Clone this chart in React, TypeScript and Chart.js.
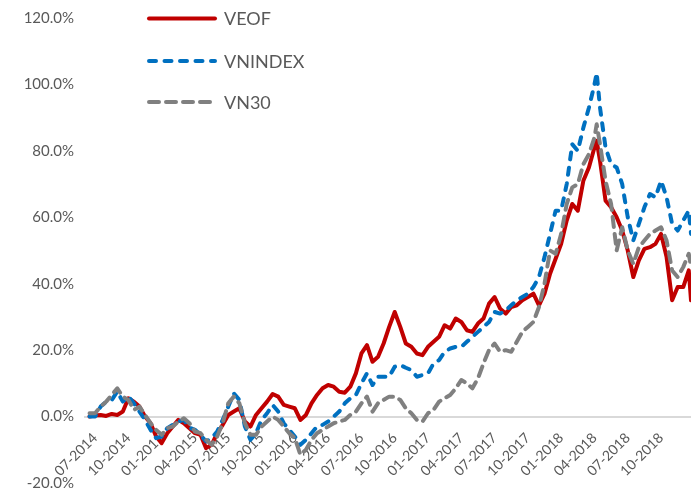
import { useEffect, useRef } from "react";
import { Chart, registerables } from "chart.js";

Chart.register(...registerables);

const dates = [
  "2014-06-16",
  "2014-07-01", "2014-07-16", "2014-08-01", "2014-08-16", "2014-09-01", "2014-09-16", "2014-10-01", "2014-10-16", "2014-11-01", "2014-11-16", "2014-12-01", "2014-12-16",
  "2015-01-01", "2015-01-16", "2015-02-01", "2015-02-16", "2015-03-01", "2015-03-16", "2015-04-01", "2015-04-16", "2015-05-01", "2015-05-16", "2015-06-01", "2015-06-16",
  "2015-07-01", "2015-07-16", "2015-08-01", "2015-08-16", "2015-09-01", "2015-09-16", "2015-10-01", "2015-10-16", "2015-11-01", "2015-11-16", "2015-12-01", "2015-12-16",
  "2016-01-01", "2016-01-16", "2016-02-01", "2016-02-16", "2016-03-01", "2016-03-16", "2016-04-01", "2016-04-16", "2016-05-01", "2016-05-16", "2016-06-01", "2016-06-16",
  "2016-07-01", "2016-07-16", "2016-08-01", "2016-08-16", "2016-09-01", "2016-09-16", "2016-10-01", "2016-10-16", "2016-11-01", "2016-11-16", "2016-12-01", "2016-12-16",
  "2017-01-01", "2017-01-16", "2017-02-01", "2017-02-16", "2017-03-01", "2017-03-16", "2017-04-01", "2017-04-16", "2017-05-01", "2017-05-16", "2017-06-01", "2017-06-16",
  "2017-07-01", "2017-07-16", "2017-08-01", "2017-08-16", "2017-09-01", "2017-09-16", "2017-10-01", "2017-10-16", "2017-11-01", "2017-11-16", "2017-12-01", "2017-12-16",
  "2018-01-01", "2018-01-16", "2018-02-01", "2018-02-16", "2018-03-01", "2018-03-16", "2018-04-01", "2018-04-07", "2018-04-16", "2018-05-01", "2018-05-16", "2018-06-01", "2018-06-16",
  "2018-07-01", "2018-07-16", "2018-08-01", "2018-08-16", "2018-09-01", "2018-09-16", "2018-10-01", "2018-10-16", "2018-11-01", "2018-11-16", "2018-12-01", "2018-12-16", "2018-12-22",
];

// Cumulative performance, %
const veof = [
  0,
  0.3, 0.5, 0.2, 0.8, 0.5, 1.5, 5.5, 4.5, 3, 0, -2, -6,
  -8, -5, -3, -1, -2, -3.5, -5, -5.5, -9.5, -8.5, -5, -2.5,
  0.5, 1.5, 2.5, -1.5, -3, 0.5, 2.5, 4.5, 6.8, 6, 3.5, 3,
  2.5, -1, 0.5, 4, 6.5, 8.5, 9.5, 9, 7.5, 7.2, 9, 13,
  19, 21.5, 16.5, 18, 22, 27, 31.5, 27, 22, 21, 19, 18.5,
  21, 22.5, 24, 27.5, 26.5, 29.5, 28.5, 26, 25.5, 28, 29.5, 34,
  36, 32.5, 31, 33, 33.5, 35, 36, 37, 33.5, 37, 43, 47.5,
  52, 59, 64, 62, 71, 75, 81, 83, 77, 65, 63, 60, 56,
  50, 42, 47, 50.5, 51, 52, 55, 48, 35, 39, 39, 44, 35,
];

const vnindex = [
  0,
  0, 3, 4.5, 5, 7.5, 4.5, 6, 4, 1.5, -1, -4, -6.5,
  -6, -3.5, -2.5, -1.5, -1, -3.3, -4, -5.5, -7.5, -6.5, -4.5, -1,
  3, 7, 5, -3, -7, -5, -1, 1, 3.5, 1.5, -2, -4,
  -6, -8.5, -7, -5, -3, -2.5, -1.5, 0, 1.5, 4, 5.5, 6.5,
  10, 13, 9.5, 12, 12, 12, 15, 15.5, 14.7, 14, 12, 12.5,
  13, 16, 17, 19.5, 20.5, 21, 21, 22.5, 24, 25.5, 27, 28.5,
  31.5, 31, 32, 33.5, 35, 36, 37, 39, 42, 48, 55, 62,
  62, 70, 82, 80, 87, 93, 100, 103.5, 93, 81, 76, 75, 70,
  60, 53, 58, 63, 67, 66, 71, 66, 58, 56, 59, 62, 55,
];

const vn30 = [
  1,
  1, 3, 4.5, 6.5, 8.5, 6, 5, 2, 3, 0.5, -2, -4,
  -5.5, -3.5, -3, -1.5, -0.5, -2, -4.5, -5, -7, -8.5, -6, -2,
  4, 6, 4, -2, -5.5, -5.5, -3, -1.5, 0, -1, -3, -5,
  -6.5, -11.5, -10, -7, -5, -4, -3, -2, -1.5, -1, 0.5, 1.5,
  4, 6, 1.5, 4, 5, 6, 6, 5, 2.5, 1, -1, -1.5,
  1, 2, 4.5, 5.5, 6.5, 8.5, 11, 10, 8.5, 11.5, 16, 20,
  22, 19.5, 20, 19.5, 22.5, 25.5, 27, 28.5, 33, 40, 50, 49,
  55, 64, 69, 70, 76, 79, 84, 88, 82, 71, 64, 50, 57,
  50, 46, 51, 53, 55, 56, 57, 53, 44, 42, 45, 49, 45,
];

const seriesNames = ["VEOF", "VNINDEX", "VN30"];

const tickLabels = [
  "07-2014", "10-2014", "01-2015", "04-2015", "07-2015", "10-2015",
  "01-2016", "04-2016", "07-2016", "10-2016", "01-2017", "04-2017",
  "07-2017", "10-2017", "01-2018", "04-2018", "07-2018", "10-2018",
];

const TEXT = "#595959";
const FONT = "Lato, 'Open Sans', 'DejaVu Sans', sans-serif";

function monthIndex(d: string): number {
  const [y, m, day] = d.split("-").map(Number);
  return (y - 2014) * 12 + (m - 7) + (day - 1) / 30;
}
function tickToMonth(label: string): number {
  const [mm, yyyy] = label.split("-");
  return monthIndex(`${yyyy}-${mm}-01`);
}

const legendPlugin = {
  id: "insideLegend",
  afterDraw(chart: any) {
    const ctx = chart.ctx as CanvasRenderingContext2D;
    const rowsY = [18.5, 61, 102];
    const x0 = 149;
    const x1 = 215;
    chart.data.datasets.forEach((ds: any, i: number) => {
      const y = rowsY[i];
      ctx.save();
      ctx.strokeStyle = ds.borderColor;
      ctx.lineWidth = 4;
      ctx.lineCap = "round";
      ctx.setLineDash(ds.borderDash || []);
      ctx.beginPath();
      ctx.moveTo(x0, y);
      ctx.lineTo(x1, y);
      ctx.stroke();
      ctx.setLineDash([]);
      ctx.fillStyle = TEXT;
      ctx.font = `18px ${FONT}`;
      ctx.textBaseline = "middle";
      ctx.textAlign = "left";
      ctx.fillText(ds.label, 224, y + 1);
      ctx.restore();
    });
  },
};

export default function App() {
  const ref = useRef<HTMLCanvasElement | null>(null);

  useEffect(() => {
    if (!ref.current) return;
    const xs = dates.map(monthIndex);
    const mk = (vals: number[]) => vals.map((v, i) => ({ x: xs[i], y: v }));
    const chart = new Chart(ref.current, {
      type: "line",
      data: {
        datasets: [
          {
            label: seriesNames[0],
            data: mk(veof),
            borderColor: "#C00000",
            borderWidth: 4,
            borderCapStyle: "round",
            borderJoinStyle: "round",
            pointRadius: 0,
            order: 3,
          },
          {
            label: seriesNames[1],
            data: mk(vnindex),
            borderColor: "#0070C0",
            borderWidth: 4,
            borderDash: [7, 8.5],
            borderCapStyle: "round",
            borderJoinStyle: "round",
            pointRadius: 0,
            order: 2,
          },
          {
            label: seriesNames[2],
            data: mk(vn30),
            borderColor: "#808080",
            borderWidth: 4,
            borderDash: [10, 7],
            borderCapStyle: "round",
            borderJoinStyle: "round",
            pointRadius: 0,
            order: 1,
          },
        ],
      },
      options: {
        responsive: false,
        animation: false,
        layout: { padding: { top: 18, bottom: 11, left: 0, right: 0 } },
        plugins: { legend: { display: false }, tooltip: { enabled: false } },
        scales: {
          x: {
            type: "linear",
            position: { y: 0 } as any,
            min: -1,
            max: monthIndex("2018-12-22"),
            afterBuildTicks: (s: any) => {
              s.ticks = tickLabels.map((l) => ({ value: tickToMonth(l) }));
            },
            afterFit: (s: any) => {
              s.height = 0;
              s.paddingTop = 0;
              s.paddingBottom = 0;
            },
            grid: { display: false, drawTicks: false },
            border: { display: false },
            ticks: {
              autoSkip: false,
              minRotation: 45,
              maxRotation: 45,
              padding: 13,
              labelOffset: 0,
              color: TEXT,
              font: { family: FONT, size: 14 },
              callback: (_v: any, i: number) => tickLabels[i],
            },
          },
          y: {
            min: -20,
            max: 120,
            afterFit: (s: any) => {
              s.width = 84;
              s.paddingTop = 0;
              s.paddingBottom = 0;
            },
            grid: {
              drawTicks: false,
              color: (c: any) => (c.tick && c.tick.value === 0 ? "#D9D9D9" : "rgba(0,0,0,0)"),
              lineWidth: 2,
            },
            border: { display: false },
            ticks: {
              stepSize: 20,
              padding: 10,
              color: TEXT,
              font: { family: FONT, size: 15 },
              callback: (v: any) => Number(v).toFixed(1) + "%",
            },
          },
        },
      },
      plugins: [legendPlugin],
    });
    return () => chart.destroy();
  }, []);

  return (
    <div style={{ position: "absolute", left: 0, top: 0, width: 691, height: 494, background: "#fff" }}>
      <canvas ref={ref} width={691} height={494} style={{ display: "block" }} />
    </div>
  );
}
